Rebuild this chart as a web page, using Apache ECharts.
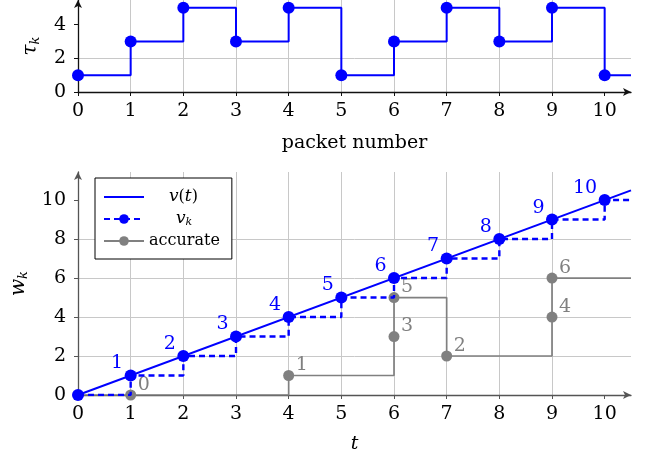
<!DOCTYPE html>
<html>
<head>
<meta charset="utf-8">
<script src="https://cdn.jsdelivr.net/npm/echarts@6/dist/echarts.min.js"></script>
<style>html,body{margin:0;padding:0;background:#fff}#c{width:655px;height:459px}</style>
</head>
<body>
<div id="c"></div>
<script>
// ---------- data ----------
const X_MAX = 10.5;
const xTicks = [0, 1, 2, 3, 4, 5, 6, 7, 8, 9, 10];
const tauTicks = [0, 2, 4];
const wTicks = [0, 2, 4, 6, 8, 10];

// top panel: delay tau_k of each packet
const packetNumber = [0, 1, 2, 3, 4, 5, 6, 7, 8, 9, 10];
const tauK = [1, 3, 5, 3, 5, 1, 3, 5, 3, 5, 1];

// bottom panel
const vtTime = [0, 10.5];
const vtValue = [0, 10.5];
const vkTime = [0, 1, 2, 3, 4, 5, 6, 7, 8, 9, 10];
const vkValue = [0, 1, 2, 3, 4, 5, 6, 7, 8, 9, 10];
const vkLabel = ['', '1', '2', '3', '4', '5', '6', '7', '8', '9', '10'];
const accTime = [0, 1, 4, 6, 6, 7, 9, 9, 10.5];
const accValue = [0, 0, 1, 3, 5, 2, 4, 6, 6];
const accPacket = [null, 0, 1, 3, 5, 2, 4, 6, null];

// ---------- style ----------
const FONT = 'DejaVu Serif';
const BLUE = '#0000ff';
const GRAY = '#808080';
const GRID_C = '#c8c8c8';

function xAxisCfg(gridIndex, nameRich, nameGap, axisColor) {
  return {
    type: 'value', gridIndex, min: 0, max: X_MAX, interval: 1,
    name: nameRich, nameLocation: 'middle', nameGap,
    nameTextStyle: {
      fontFamily: FONT, fontSize: 19, color: '#000',
      rich: {
        r: { fontFamily: FONT, fontSize: 19, color: '#000' },
        i: { fontFamily: FONT, fontSize: 19, fontStyle: 'italic', color: '#000' }
      }
    },
    axisLine: { show: true, onZero: false, symbol: ['none', 'arrow'], symbolSize: [6, 8],
      lineStyle: { color: axisColor, width: 1.3 } },
    axisTick: { show: true, length: 4, customValues: xTicks, lineStyle: { color: axisColor } },
    axisLabel: { margin: 10, customValues: xTicks, fontFamily: FONT, fontSize: 19, color: '#000',
      formatter: v => String(v) },
    splitLine: { show: true, showMinLine: false, showMaxLine: false, lineStyle: { color: GRID_C, width: 1 } }
  };
}
function yAxisCfg(gridIndex, max, ticks, nameRich, nameGap, axisColor) {
  return {
    type: 'value', gridIndex, min: 0, max, interval: 2,
    name: nameRich, nameLocation: 'middle', nameGap,
    nameTextStyle: {
      fontFamily: FONT, fontSize: 19, color: '#000',
      rich: {
        i: { fontFamily: FONT, fontSize: 20, fontStyle: 'italic', color: '#000' },
        s: { fontFamily: FONT, fontSize: 13, fontStyle: 'italic', color: '#000', padding: [9, 0, 0, 0] }
      }
    },
    axisLine: { show: true, onZero: false, symbol: ['none', 'arrow'], symbolSize: [6, 8],
      lineStyle: { color: axisColor, width: 1.3 } },
    axisTick: { show: true, length: 4, customValues: ticks, lineStyle: { color: axisColor } },
    axisLabel: { margin: 12, customValues: ticks, fontFamily: FONT, fontSize: 19, color: '#000',
      formatter: v => String(v) },
    splitLine: { show: true, showMinLine: false, showMaxLine: false, lineStyle: { color: GRID_C, width: 1 } }
  };
}

// ---------- build series data ----------
const tauData = packetNumber.map((x, i) => [x, tauK[i]]);
tauData.push({ value: [X_MAX, tauK[tauK.length - 1]], symbol: 'none' });

const vtData = vtTime.map((t, i) => [t, vtValue[i]]);

const vkData = vkTime.map((t, i) => ({
  value: [t, vkValue[i]],
  label: { show: vkLabel[i] !== '', formatter: vkLabel[i] }
}));
vkData.push({ value: [X_MAX, vkValue[vkValue.length - 1]], symbol: 'none', label: { show: false } });

const accData = accTime.map((t, i) => accPacket[i] === null
  ? { value: [t, accValue[i]], symbol: 'none', label: { show: false } }
  : { value: [t, accValue[i]], label: { show: true, formatter: String(accPacket[i]) } });

const option = {
  animation: false,
  backgroundColor: '#fff',
  grid: [
    { left: 78, top: 0, width: 553, height: 92, containLabel: false },
    { left: 78, top: 172, width: 553, height: 223, containLabel: false }
  ],
  xAxis: [
    xAxisCfg(0, '{r|packet number}', 42, '#111'),
    xAxisCfg(1, '{i|t}', 40, '#555')
  ],
  yAxis: [
    yAxisCfg(0, 5.46, tauTicks, '{i|τ}{s|k}', 36, '#111'),
    yAxisCfg(1, 11.44, wTicks, '{i|w}{s|k}', 48, '#555')
  ],
  legend: {
    show: true,
    left: 95, top: 178,
    orient: 'vertical',
    padding: [10, 12, 9, 8],
    itemGap: 4,
    itemWidth: 40,
    itemHeight: 12,
    borderColor: '#000',
    borderWidth: 1,
    borderRadius: 0,
    backgroundColor: '#fff',
    data: [
      { name: 'v(t)', icon: 'path://M0,0h40v2h-40z' },
      'v_k',
      'accurate'
    ],
    formatter: name => name === 'v(t)' ? '{sp1|}{i|v}{r|(}{i|t}{r|)}'
      : name === 'v_k' ? '{sp2|}{i|v}{s|k}' : '{r|accurate}',
    textStyle: {
      fontFamily: FONT, fontSize: 16, color: '#000', lineHeight: 18,
      rich: {
        r: { fontFamily: FONT, fontSize: 16, color: '#000', lineHeight: 18 },
        i: { fontFamily: FONT, fontSize: 17, fontStyle: 'italic', color: '#000', lineHeight: 18 },
        s: { fontFamily: FONT, fontSize: 11, fontStyle: 'italic', color: '#000', padding: [7, 0, 0, 0] },
        sp1: { width: 20 },
        sp2: { width: 27 }
      }
    }
  },
  series: [
    {
      name: 'tau', type: 'line', xAxisIndex: 0, yAxisIndex: 0, step: 'end',
      data: tauData, symbol: 'circle', symbolSize: 12, clip: true,
      itemStyle: { color: BLUE }, lineStyle: { color: BLUE, width: 2 }, z: 3
    },
    {
      name: 'accurate', type: 'line', xAxisIndex: 1, yAxisIndex: 1, step: 'end',
      data: accData, symbol: 'circle', symbolSize: 11, clip: true,
      itemStyle: { color: GRAY }, lineStyle: { color: GRAY, width: 1.7 },
      label: { position: [12.5, 5], align: 'left', verticalAlign: 'bottom',
        fontFamily: FONT, fontSize: 19, color: GRAY },
      z: 2
    },
    {
      name: 'v(t)', type: 'line', xAxisIndex: 1, yAxisIndex: 1,
      data: vtData, symbol: 'none', showSymbol: false, clip: true,
      itemStyle: { color: BLUE }, lineStyle: { color: BLUE, width: 2 }, z: 3
    },
    {
      name: 'v_k', type: 'line', xAxisIndex: 1, yAxisIndex: 1, step: 'end',
      data: vkData, symbol: 'circle', symbolSize: 12, clip: true,
      itemStyle: { color: BLUE }, lineStyle: { color: BLUE, width: 2.4, type: [6, 4] },
      label: { position: [-1.5, 3.5], align: 'right', verticalAlign: 'bottom',
        fontFamily: FONT, fontSize: 19, color: BLUE },
      z: 4
    }
  ]
};

const chart = echarts.init(document.getElementById('c'), null, { renderer: 'canvas' });
chart.setOption(option);
</script>
</body>
</html>
